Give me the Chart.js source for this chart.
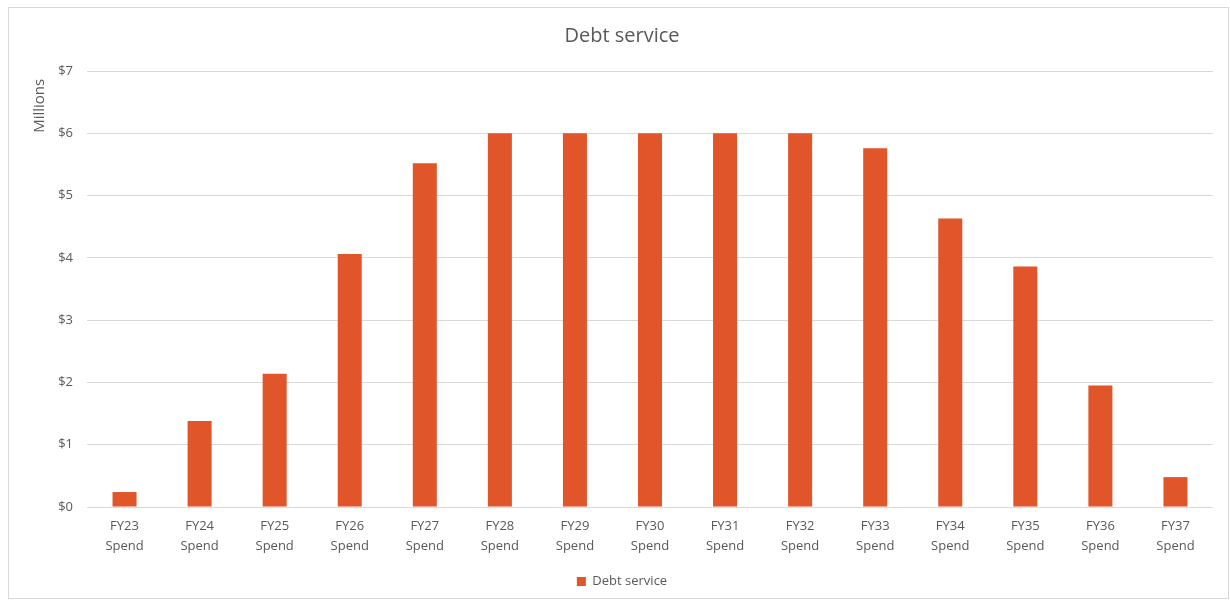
<!DOCTYPE html>
<html>
<head>
<meta charset="utf-8">
<script src="https://cdn.jsdelivr.net/npm/chart.js@4.4.1/dist/chart.umd.min.js"></script>
<style>
  html, body { margin: 0; padding: 0; background: #fff; }
  #wrap {
    position: absolute; left: 8px; top: 7px;
    width: 1219px; height: 590px;
    border: 1px solid #d9d9d9;
  }
</style>
</head>
<body>
<div id="wrap"><canvas id="chart" width="1219" height="590"></canvas></div>
<script>
const years = ['FY23', 'FY24', 'FY25', 'FY26', 'FY27', 'FY28', 'FY29', 'FY30',
  'FY31', 'FY32', 'FY33', 'FY34', 'FY35', 'FY36', 'FY37'];
const debt_service = [0.24, 1.38, 2.14, 4.06, 5.52, 6.0, 6.0, 6.0,
  6.0, 6.0, 5.76, 4.63, 3.86, 1.95, 0.48];
const y_ticks = [0, 1, 2, 3, 4, 5, 6, 7];

const font_family = "'Open Sans', 'Noto Sans', sans-serif";
const text_color = '#595959';

const labels = years.map(y => [y, 'Spend']);

new Chart(document.getElementById('chart'), {
  type: 'bar',
  data: {
    labels: labels,
    datasets: [{
      label: 'Debt service',
      data: debt_service,
      backgroundColor: '#E05529',
      categoryPercentage: 1.0,
      barPercentage: 0.32
    }]
  },
  options: {
    responsive: false,
    animation: false,
    layout: { padding: { left: 22, right: 15, top: 0, bottom: 0 } },
    scales: {
      x: {
        grid: { display: false },
        border: { display: false },
        ticks: {
          color: text_color,
          font: { family: font_family, size: 13, lineHeight: 1.55 },
          maxRotation: 0,
          padding: 1
        },
        afterFit: function (scale) { scale.height = 60; }
      },
      y: {
        min: 0,
        max: 7,
        afterBuildTicks: function (scale) {
          scale.ticks = y_ticks.map(v => ({ value: v }));
        },
        grid: { color: '#d9d9d9', drawTicks: false },
        border: { display: false },
        ticks: {
          color: text_color,
          font: { family: font_family, size: 13 },
          padding: 14,
          callback: v => '$' + v
        },
        title: {
          display: true,
          text: 'Millions  ',
          align: 'end',
          color: text_color,
          font: { family: font_family, size: 15 },
          padding: 0
        },
        afterFit: function (scale) { scale.width = 56; }
      }
    },
    plugins: {
      title: {
        display: true,
        text: 'Debt service',
        color: text_color,
        font: { family: font_family, size: 20, weight: 'normal' },
        padding: { top: 16, bottom: 23 }
      },
      legend: {
        position: 'bottom',
        labels: {
          color: text_color,
          font: { family: font_family, size: 13 },
          boxWidth: 9,
          boxHeight: 9,
          padding: 8
        }
      },
      tooltip: { enabled: false }
    }
  }
});
</script>
</body>
</html>
